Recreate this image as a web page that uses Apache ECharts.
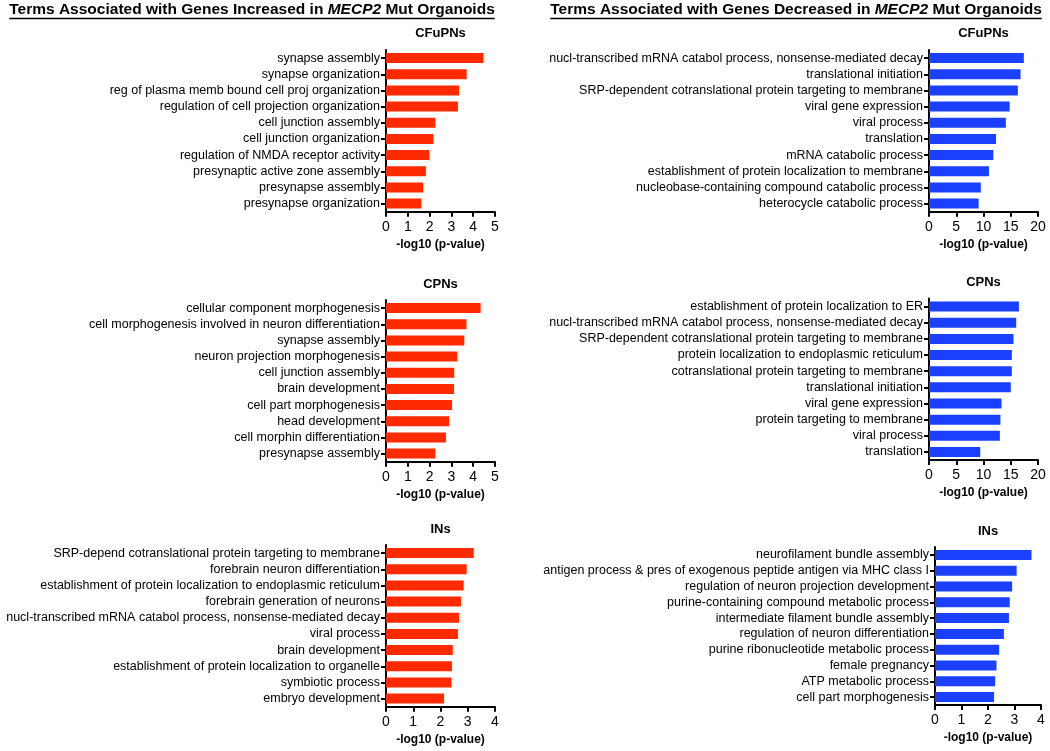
<!DOCTYPE html>
<html><head><meta charset="utf-8">
<script src="https://cdn.jsdelivr.net/npm/echarts@6/dist/echarts.min.js"></script>
<style>html,body{margin:0;padding:0;background:#fff}#c{width:1050px;height:751px}</style>
</head><body><div id="c"></div>
<script>
// ---------- data ----------
const mainTitles = ['Terms Associated with Genes Increased in ', 'Terms Associated with Genes Decreased in '];
const geneName = 'MECP2';
const titleTail = ' Mut Organoids';
const panelTitles = ['CFuPNs', 'CPNs', 'INs'];
const axisTitle = '-log10 (p-value)';

const incCFuLabels = ['synapse assembly','synapse organization','reg of plasma memb bound cell proj organization','regulation of cell projection organization','cell junction assembly','cell junction organization','regulation of NMDA receptor activity','presynaptic active zone assembly','presynapse assembly','presynapse organization'];
const incCFuValues = [4.47,3.70,3.35,3.30,2.26,2.17,1.99,1.83,1.70,1.62];

const decCFuLabels = ['nucl-transcribed mRNA catabol process, nonsense-mediated decay','translational initiation','SRP-dependent cotranslational protein targeting to membrane','viral gene expression','viral process','translation','mRNA catabolic process','establishment of protein localization to membrane','nucleobase-containing compound catabolic process','heterocycle catabolic process'];
const decCFuValues = [17.4,16.8,16.3,14.8,14.1,12.3,11.8,11.0,9.5,9.1];

const incCPNLabels = ['cellular component morphogenesis','cell morphogenesis involved in neuron differentiation','synapse assembly','neuron projection morphogenesis','cell junction assembly','brain development','cell part morphogenesis','head development','cell morphin differentiation','presynapse assembly'];
const incCPNValues = [4.34,3.69,3.59,3.27,3.13,3.12,3.03,2.89,2.75,2.26];

const decCPNLabels = ['establishment of protein localization to ER','nucl-transcribed mRNA catabol process, nonsense-mediated decay','SRP-dependent cotranslational protein targeting to membrane','protein localization to endoplasmic reticulum','cotranslational protein targeting to membrane','translational initiation','viral gene expression','protein targeting to membrane','viral process','translation'];
const decCPNValues = [16.5,16.0,15.5,15.2,15.2,15.0,13.3,13.1,13.0,9.4];

const incINLabels = ['SRP-depend cotranslational protein targeting to membrane','forebrain neuron differentiation','establishment of protein localization to endoplasmic reticulum','forebrain generation of neurons','nucl-transcribed mRNA catabol process, nonsense-mediated decay','viral process','brain development','establishment of protein localization to organelle','symbiotic process','embryo development'];
const incINValues = [3.22,2.96,2.85,2.75,2.68,2.64,2.45,2.42,2.40,2.13];

const decINLabels = ['neurofilament bundle assembly','antigen process & pres of exogenous peptide antigen via MHC class I','regulation of neuron projection development','purine-containing compound metabolic process','intermediate filament bundle assembly','regulation of neuron differentiation','purine ribonucleotide metabolic process','female pregnancy','ATP metabolic process','cell part morphogenesis'];
const decINValues = [3.64,3.08,2.91,2.82,2.79,2.60,2.42,2.32,2.27,2.23];

const incAxisMax = [5, 5, 4];
const incAxisInterval = [1, 1, 1];
const decAxisMax = [20, 20, 4];
const decAxisInterval = [5, 5, 1];

// ---------- layout ----------
const FONT = '"Liberation Sans", Arial, Helvetica, sans-serif';
const RED = '#ff2a00';
const BLUE = '#1b3fff';

const panels = [
  {labels: incCFuLabels, values: incCFuValues, max: incAxisMax[0], interval: incAxisInterval[0], title: panelTitles[0], color: RED,  left: 386, width: 109, top: 50,  height: 161.7, titleY: 33},
  {labels: decCFuLabels, values: decCFuValues, max: decAxisMax[0], interval: decAxisInterval[0], title: panelTitles[0], color: BLUE, left: 929, width: 109, top: 50,  height: 161.7, titleY: 33},
  {labels: incCPNLabels, values: incCPNValues, max: incAxisMax[1], interval: incAxisInterval[1], title: panelTitles[1], color: RED,  left: 386, width: 109, top: 300, height: 161.7, titleY: 284},
  {labels: decCPNLabels, values: decCPNValues, max: decAxisMax[1], interval: decAxisInterval[1], title: panelTitles[1], color: BLUE, left: 929, width: 109, top: 298.5, height: 161.5, titleY: 282},
  {labels: incINLabels,  values: incINValues,  max: incAxisMax[2], interval: incAxisInterval[2], title: panelTitles[2], color: RED,  left: 386, width: 109, top: 545, height: 161.7, titleY: 529},
  {labels: decINLabels,  values: decINValues,  max: decAxisMax[2], interval: decAxisInterval[2], title: panelTitles[2], color: BLUE, left: 935, width: 106, top: 547, height: 158, titleY: 531}
];

const grids = [], xAxes = [], yAxes = [], series = [], titles = [];
panels.forEach((p, i) => {
  grids.push({left: p.left, top: p.top, width: p.width, height: p.height, containLabel: false});
  xAxes.push({
    type: 'value', gridIndex: i, min: 0, max: p.max, interval: p.interval,
    splitLine: {show: false},
    axisLine: {show: true, lineStyle: {color: '#000', width: 2}},
    axisTick: {show: true, length: 5, lineStyle: {color: '#000', width: 2}},
    axisLabel: {color: '#000', fontSize: 14, fontFamily: FONT, margin: 8},
    name: axisTitle, nameLocation: 'middle', nameGap: 27,
    nameTextStyle: {color: '#000', fontSize: 12, fontWeight: 'bold', fontFamily: FONT}
  });
  yAxes.push({
    type: 'category', gridIndex: i, data: p.labels, inverse: true,
    axisLine: {show: true, lineStyle: {color: '#000', width: 2}},
    axisTick: {show: true, alignWithLabel: true, length: 5, lineStyle: {color: '#000', width: 2}},
    axisLabel: {color: '#000', fontSize: 12.5, fontFamily: FONT, margin: 6, interval: 0}
  });
  series.push({
    type: 'bar', xAxisIndex: i, yAxisIndex: i, data: p.values, barWidth: 10,
    itemStyle: {color: p.color}, silent: true, animation: false
  });
  titles.push({
    text: p.title, left: p.left + p.width / 2, top: p.titleY, padding: 0,
    textAlign: 'center', textVerticalAlign: 'middle',
    textStyle: {color: '#000', fontSize: 13, fontWeight: 'bold', fontFamily: FONT}
  });
});

// main titles
const mainCenters = [252, 796];
const mainY = 10;
const MAIN_SIZE = 15.5;
const ctx = document.createElement('canvas').getContext('2d');
function tw(font, s) { ctx.font = font; return ctx.measureText(s).width; }
const graphics = [];
mainTitles.forEach((t, k) => {
  titles.push({
    text: t + '{i|' + geneName + '}' + titleTail,
    left: mainCenters[k], top: mainY, padding: 0,
    textAlign: 'center', textVerticalAlign: 'middle',
    textStyle: {color: '#000', fontSize: MAIN_SIZE, fontWeight: 'bold', fontFamily: FONT,
      rich: {i: {fontStyle: 'italic', fontWeight: 'bold', fontSize: MAIN_SIZE, fontFamily: FONT, color: '#000'}}}
  });
  const w = tw('bold ' + MAIN_SIZE + 'px ' + FONT, t) + tw('italic bold ' + MAIN_SIZE + 'px ' + FONT, geneName) + tw('bold ' + MAIN_SIZE + 'px ' + FONT, titleTail);
  graphics.push({type: 'line', silent: true,
    shape: {x1: mainCenters[k] - w / 2, y1: 18.5, x2: mainCenters[k] + w / 2, y2: 18.5},
    style: {stroke: '#000', lineWidth: 1.6}});
});

const chart = echarts.init(document.getElementById('c'), null, {renderer: 'canvas'});
chart.setOption({
  backgroundColor: '#fff',
  animation: false,
  title: titles,
  grid: grids,
  xAxis: xAxes,
  yAxis: yAxes,
  series: series,
  graphic: graphics
});
</script>
</body></html>
